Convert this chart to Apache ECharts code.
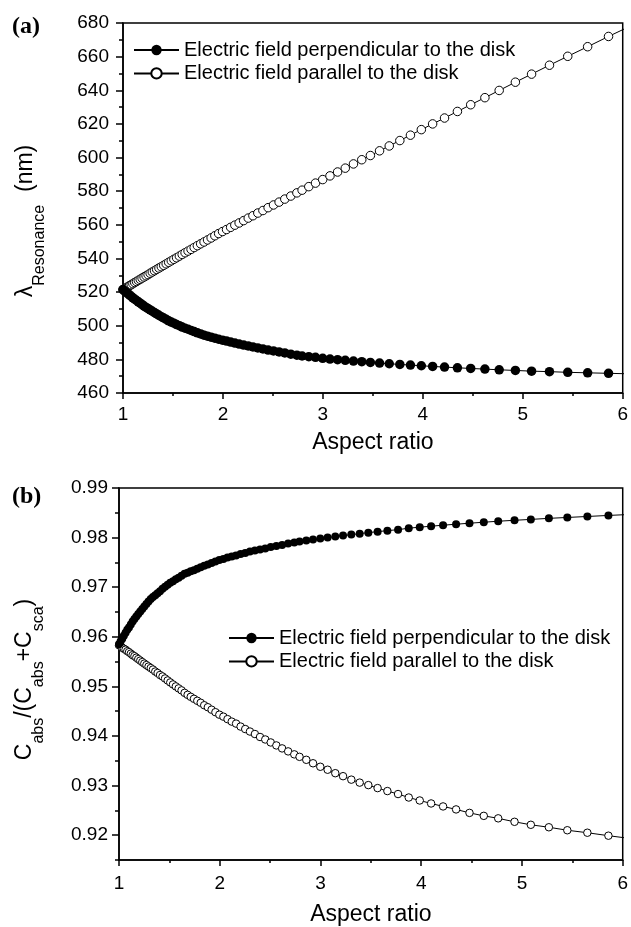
<!DOCTYPE html>
<html><head><meta charset="utf-8">
<script src="https://cdn.jsdelivr.net/npm/echarts@6/dist/echarts.min.js"></script>
<style>html,body{margin:0;padding:0;background:#fff}#c{width:631px;height:927px}</style>
</head><body><div id="c"></div>
<script>
const aspectRatio = [1.000,1.016,1.032,1.048,1.065,1.082,1.099,1.117,1.135,1.153,1.172,1.191,1.211,1.231,1.251,1.272,1.293,1.315,1.337,1.360,
1.383,1.407,1.432,1.457,1.483,1.509,1.536,1.564,1.592,1.621,1.651,1.681,1.712,1.744,1.777,1.811,1.846,1.882,1.919,1.957,
1.996,2.036,2.077,2.119,2.162,2.207,2.253,2.300,2.349,2.400,2.452,2.506,2.562,2.619,2.679,2.740,
2.792,2.859,2.926,2.998,3.071,3.147,3.224,3.306,3.389,3.475,3.567,3.664,3.770,3.876,3.985,4.098,4.217,4.346,4.479,4.621,
4.764,4.926,5.088,5.267,5.450,5.649,5.858,6.070];

const lambdaPerp = [521.5,520.7,519.9,519.1,518.3,517.4,516.6,515.8,515.0,514.2,513.4,512.6,511.7,510.9,510.2,509.4,508.6,507.8,507.0,506.2,
505.4,504.6,503.8,502.9,502.2,501.5,500.7,500.0,499.2,498.5,497.9,497.2,496.5,495.8,495.1,494.4,493.8,493.2,492.6,491.95,
491.4,490.9,490.3,489.7,489.1,488.5,488.0,487.4,486.8,486.2,485.5,485.0,484.4,483.8,483.1,482.5,
482.0,481.6,481.2,480.6,480.2,479.8,479.4,479.0,478.6,478.2,477.8,477.4,477.0,476.6,476.2,475.8,475.4,475.0,474.6,474.2,
473.8,473.4,473.0,472.7,472.3,472.0,471.7,471.4];

const lambdaPar = [521.5,522.1,522.6,523.2,523.8,524.4,525.0,525.7,526.3,527.0,527.6,528.3,529.0,529.7,530.4,531.2,531.95,532.7,533.5,534.3,
535.1,535.9,536.8,537.7,538.6,539.5,540.4,541.4,542.4,543.4,544.4,545.4,546.5,547.6,548.7,549.8,551.0,552.2,553.5,554.8,
556.0,557.2,558.5,559.8,561.1,562.5,564.0,565.4,567.0,568.5,570.2,571.8,573.5,575.3,577.1,579.0,
580.6,582.7,584.8,586.9,589.1,591.4,593.7,596.2,598.7,601.2,604.0,606.9,610.1,613.3,616.6,620.0,623.5,627.4,631.4,635.6,
639.9,644.8,649.6,654.9,660.2,665.9,672.0,678.0];

const ratioPerp = [0.9585,0.9591,0.9596,0.9602,0.9608,0.9614,0.9619,0.9625,0.9631,0.9636,0.9641,0.9646,0.9651,0.9656,0.9661,0.9666,0.9671,0.9676,0.9680,0.9684,
0.9688,0.9692,0.9697,0.9701,0.9705,0.9709,0.9712,0.9716,0.9719,0.9723,0.9727,0.9729,0.9732,0.9734,0.9737,0.9740,0.9743,0.9746,0.9749,0.9752,
0.9755,0.9757,0.9760,0.9762,0.9764,0.9767,0.9769,0.9772,0.9774,0.9776,0.9778,0.9781,0.9783,0.9785,0.9788,0.9790,
0.9792,0.9794,0.9796,0.9798,0.9800,0.9802,0.9804,0.9806,0.9808,0.9810,0.9812,0.9814,0.9816,0.9819,0.9821,0.9823,0.9825,0.9827,0.9829,0.9831,
0.9833,0.98349,0.98367,0.98388,0.98406,0.98426,0.98447,0.98466];

const ratioPar = [0.9583,0.9581,0.9578,0.9576,0.9574,0.9571,0.9569,0.9566,0.9563,0.9561,0.9558,0.9555,0.9552,0.9549,0.9546,0.9543,0.9540,0.9537,0.9534,0.9530,
0.9527,0.9523,0.9520,0.9516,0.9512,0.9508,0.9504,0.9500,0.9496,0.9492,0.9487,0.9483,0.9479,0.9475,0.9471,0.9467,0.9462,0.9458,0.9453,0.9448,
0.9443,0.9439,0.9434,0.9429,0.9425,0.9419,0.9414,0.9409,0.9404,0.9398,0.9393,0.9387,0.9381,0.9375,0.9369,0.9363,
0.9358,0.9352,0.9345,0.9338,0.9332,0.9325,0.9319,0.9312,0.9306,0.9301,0.9295,0.9289,0.9283,0.9276,0.9270,0.9264,0.9258,0.9252,0.9245,0.9239,
0.9234,0.9227,0.9221,0.9216,0.9210,0.9205,0.9199,0.91935];

const yTicksB = [0.92,0.93,0.94,0.95,0.96,0.97,0.98,0.99];
const yMinorTicksB = [0.915,0.925,0.935,0.945,0.955,0.965,0.975,0.985];

const namePerp = 'Electric field perpendicular to the disk';
const namePar = 'Electric field parallel to the disk';

const F = '"Liberation Sans", Arial, sans-serif';
const zip = (xs, ys) => xs.map((x, i) => [x, ys[i]]);
const black = '#000';
const axisLine = {show: true, onZero: false, lineStyle: {color: black, width: 1.5}};
const tickLbl = {color: black, fontFamily: F, fontSize: 19};

const xAxisBase = (grid, margin, gap) => ({
  type: 'value', gridIndex: grid, min: 1, max: 6, interval: 1,
  name: 'Aspect ratio', nameLocation: 'middle', nameGap: gap,
  nameTextStyle: {color: black, fontFamily: F, fontSize: 23},
  axisLine: axisLine,
  axisTick: {show: true, inside: false, length: 6, lineStyle: {color: black, width: 1.5}},
  minorTick: {show: true, splitNumber: 2, length: 3, lineStyle: {color: black, width: 1.5}},
  axisLabel: Object.assign({margin: margin}, tickLbl),
  splitLine: {show: false}
});

const richTitle = {
  m: {fontSize: 23, fontFamily: F, color: black, lineHeight: 28, verticalAlign: 'top'},
  s: {fontSize: 16, fontFamily: F, color: black, lineHeight: 16, padding: [18, 0, 0, 0], verticalAlign: 'top'}
};

const chart = echarts.init(document.getElementById('c'));
chart.setOption({
  animation: false,
  backgroundColor: '#fff',
  title: [
    {text: '(a)', left: 7, top: 10, textStyle: {fontFamily: '"Liberation Serif", "Times New Roman", serif', fontWeight: 'bold', fontSize: 24, color: black}},
    {text: '(b)', left: 7, top: 480, textStyle: {fontFamily: '"Liberation Serif", "Times New Roman", serif', fontWeight: 'bold', fontSize: 24, color: black}}
  ],
  grid: [
    {left: 123, top: 23, width: 503, height: 370, show: true, borderColor: black, borderWidth: 1.5, containLabel: false},
    {left: 119, top: 488, width: 507, height: 373, show: true, borderColor: black, borderWidth: 1.5, containLabel: false}
  ],
  legend: [
    {orient: 'vertical', left: 128, top: 35, itemWidth: 45, itemHeight: 13, itemGap: 3.4, selectedMode: false,
     data: [namePerp, namePar], textStyle: {color: black, fontFamily: F, fontSize: 20}},
    {orient: 'vertical', left: 223, top: 623, itemWidth: 45, itemHeight: 13, itemGap: 3.4, selectedMode: false,
     data: [namePerp, namePar], textStyle: {color: black, fontFamily: F, fontSize: 20}}
  ],
  xAxis: [xAxisBase(0, 12, 38), xAxisBase(1, 14, 43)],
  yAxis: [
    {type: 'value', gridIndex: 0, min: 460, max: 680, interval: 20,
     name: '{m|λ}{s|Resonance}{m|  (nm)}', nameLocation: 'middle', nameRotate: 90, nameGap: 81,
     nameTextStyle: {rich: richTitle, padding: [0, 26, 0, 0]},
     axisLine: axisLine,
     axisTick: {show: true, length: 7, lineStyle: {color: black, width: 1.5}},
     minorTick: {show: true, splitNumber: 2, length: 4, lineStyle: {color: black, width: 1.5}},
     axisLabel: Object.assign({margin: 14}, tickLbl),
     splitLine: {show: false}},
    {type: 'value', gridIndex: 1, position: 'left', min: 0.915, max: 0.99,
     name: '{m|C}{s|abs}{m|/(C}{s|abs}{m|+C}{s|sca}{m|)}', nameLocation: 'middle', nameRotate: 90, nameGap: 78,
     nameTextStyle: {rich: richTitle, padding: [0, 11, 0, 0]},
     axisLine: axisLine,
     axisTick: {show: true, length: 7, customValues: yTicksB, lineStyle: {color: black, width: 1.5}},
     axisLabel: Object.assign({margin: 11, customValues: yTicksB, formatter: v => v.toFixed(2)}, tickLbl),
     splitLine: {show: false}},
    {type: 'value', gridIndex: 1, position: 'left', offset: 0, min: 0.915, max: 0.99,
     axisLine: {show: false},
     axisTick: {show: true, length: 4, customValues: yMinorTicksB, lineStyle: {color: black, width: 1.5}},
     axisLabel: {show: false},
     splitLine: {show: false}}
  ],
  series: [
    {name: namePar, type: 'line', xAxisIndex: 0, yAxisIndex: 0, data: zip(aspectRatio, lambdaPar),
     symbol: 'circle', symbolSize: 8.5, showAllSymbol: true,
     lineStyle: {color: black, width: 1}, itemStyle: {color: '#fff', borderColor: black, borderWidth: 1}},
    {name: namePerp, type: 'line', xAxisIndex: 0, yAxisIndex: 0, data: zip(aspectRatio, lambdaPerp),
     symbol: 'circle', symbolSize: 9.5, showAllSymbol: true,
     lineStyle: {color: black, width: 1}, itemStyle: {color: black, borderColor: black, borderWidth: 0}},
    {name: namePar, type: 'line', xAxisIndex: 1, yAxisIndex: 1, data: zip(aspectRatio, ratioPar),
     symbol: 'circle', symbolSize: 7.5, showAllSymbol: true,
     lineStyle: {color: black, width: 1}, itemStyle: {color: '#fff', borderColor: black, borderWidth: 1}},
    {name: 'dot', type: 'scatter', xAxisIndex: 1, yAxisIndex: 1, data: zip(aspectRatio, ratioPar),
     symbol: 'circle', symbolSize: 1.6, silent: true, itemStyle: {color: '#555'}},
    {name: namePerp, type: 'line', xAxisIndex: 1, yAxisIndex: 1, data: zip(aspectRatio, ratioPerp),
     symbol: 'circle', symbolSize: 8, showAllSymbol: true,
     lineStyle: {color: black, width: 1}, itemStyle: {color: black, borderColor: black, borderWidth: 0}}
  ]
});
</script></body></html>
